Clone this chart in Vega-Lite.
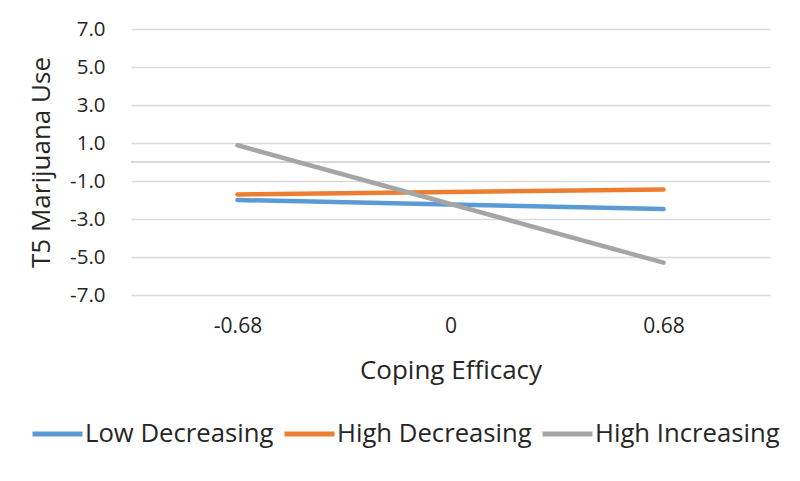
{
  "$schema": "https://vega.github.io/schema/vega-lite/v6.json",
  "width": 639,
  "height": 266,
  "autosize": {"type": "none"},
  "padding": {"left": 131, "top": 29, "right": 30, "bottom": 186},
  "background": "white",
  "config": {
    "font": "Open Sans",
    "view": {"stroke": null},
    "axis": {"labelColor": "#262626", "titleColor": "#262626", "labelFont": "Open Sans", "titleFont": "Open Sans", "titleFontWeight": "normal"},
    "axisY": {"labelOverlap": false},
    "legend": {"labelColor": "#262626", "labelFont": "Open Sans"}
  },
  "data": {
    "values": [
      {"series": "Low Decreasing", "x": "-0.68", "y": -2.0},
      {"series": "Low Decreasing", "x": "0", "y": -2.24},
      {"series": "Low Decreasing", "x": "0.68", "y": -2.48},
      {"series": "High Decreasing", "x": "-0.68", "y": -1.71},
      {"series": "High Decreasing", "x": "0", "y": -1.58},
      {"series": "High Decreasing", "x": "0.68", "y": -1.45},
      {"series": "High Increasing", "x": "-0.68", "y": 0.88},
      {"series": "High Increasing", "x": "0", "y": -2.21},
      {"series": "High Increasing", "x": "0.68", "y": -5.3}
    ]
  },
  "layer": [
    {
      "mark": {"type": "rule", "color": "#d9d9d9", "strokeWidth": 1.5},
      "encoding": {"y": {"datum": 0, "type": "quantitative", "scale": {"domain": [-7, 7], "nice": false, "zero": false},
        "axis": {"title": "T5 Marijuana Use", "values": [-7, -5, -3, -1, 1, 3, 5, 7], "labelExpr": "replace(format(datum.value, '.1f'), '\u2212', '-')", "labelOverlap": false, "labelFontSize": 20.5, "titleFontSize": 26, "ticks": false, "tickSize": 0, "domain": false, "grid": true, "gridColor": "#d9d9d9", "gridWidth": 1.5, "labelPadding": 26, "titlePadding": 15}}}
    },
    {
      "mark": {"type": "line", "strokeWidth": 4.5, "strokeCap": "round"},
      "encoding": {
        "x": {
          "field": "x", "type": "ordinal", "sort": ["-0.68", "0", "0.68"],
          "scale": {"type": "point", "padding": 0.5},
          "axis": {"title": "Coping Efficacy", "labelAngle": 0, "labelFontSize": 21, "titleFontSize": 26, "ticks": false, "tickSize": 0, "domain": false, "grid": false, "labelPadding": 20, "titlePadding": 21}
        },
        "y": {
          "field": "y", "type": "quantitative",
          "scale": {"domain": [-7, 7], "nice": false, "zero": false},
          "axis": {"title": "T5 Marijuana Use", "values": [-7, -5, -3, -1, 1, 3, 5, 7], "labelExpr": "replace(format(datum.value, '.1f'), '\u2212', '-')", "labelOverlap": false, "labelFontSize": 20.5, "titleFontSize": 26, "ticks": false, "tickSize": 0, "domain": false, "grid": true, "gridColor": "#d9d9d9", "gridWidth": 1.5, "labelPadding": 26, "titlePadding": 15}
        },
        "color": {
          "field": "series", "type": "nominal",
          "sort": ["Low Decreasing", "High Decreasing", "High Increasing"],
          "scale": {"domain": ["Low Decreasing", "High Decreasing", "High Increasing"], "range": ["#5b9bd5", "#ed7d31", "#a5a5a5"]},
          "legend": {"title": null, "orient": "none", "direction": "horizontal", "legendX": -101, "legendY": 377, "symbolType": "stroke", "symbolSize": 2500, "symbolStrokeWidth": 5, "labelFontSize": 25.7, "labelOffset": 0, "columnPadding": 0, "labelLimit": 400}
        }
      }
    }
  ]
}
